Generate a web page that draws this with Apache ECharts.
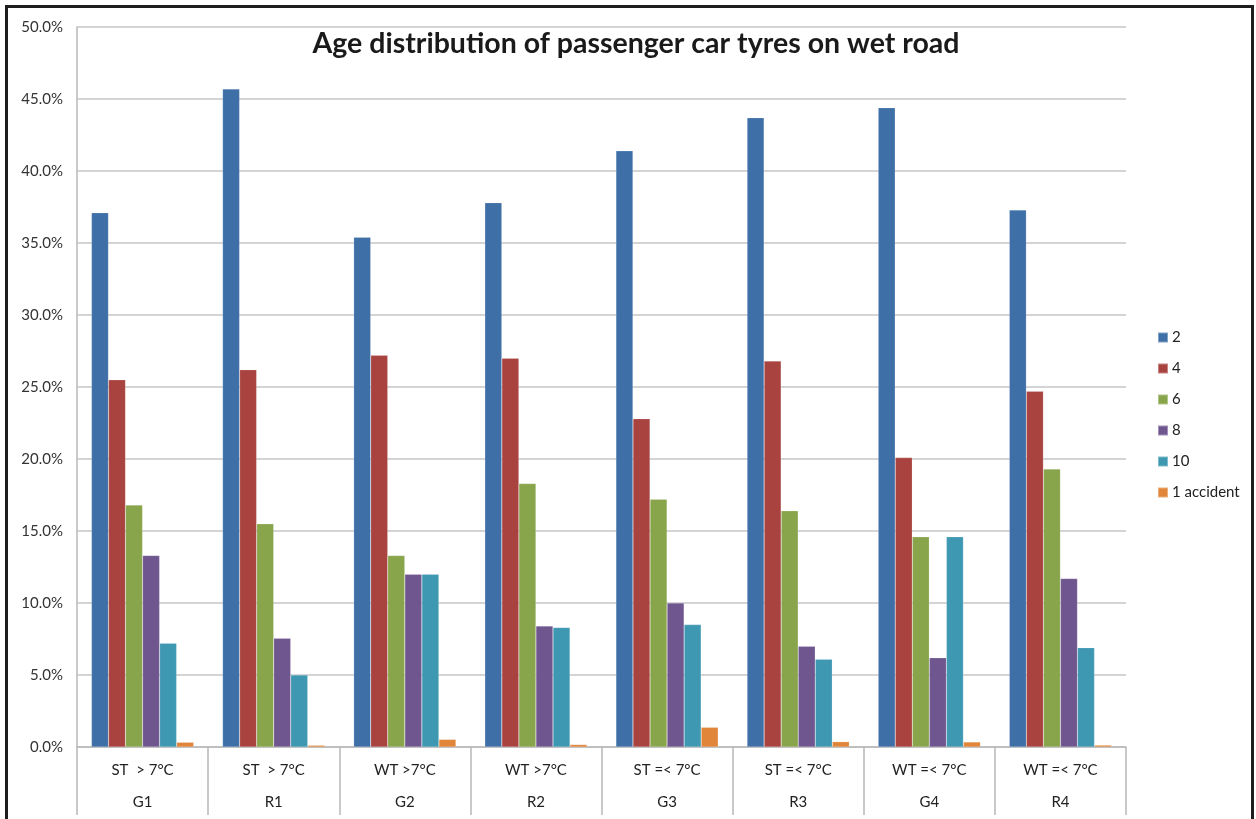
<!DOCTYPE html>
<html>
<head>
<meta charset="utf-8">
<script src="https://cdn.jsdelivr.net/npm/echarts@6/dist/echarts.min.js"></script>
<style>
  html, body { margin: 0; padding: 0; background: #fff; }
  #charts { width: 1256px; height: 819px; }
</style>
</head>
<body>
<div id="charts"></div>
<script>
// 类别（两行标签）
const conditions = ['ST  > 7°C', 'ST  > 7°C', 'WT >7°C', 'WT >7°C', 'ST =< 7°C', 'ST =< 7°C', 'WT =< 7°C', 'WT =< 7°C'];
const groups = ['G1', 'R1', 'G2', 'R2', 'G3', 'R3', 'G4', 'R4'];

// 各系列数值 (%)
const age2 = [37.1, 45.7, 35.4, 37.8, 41.4, 43.7, 44.4, 37.3];
const age4 = [25.5, 26.2, 27.2, 27.0, 22.8, 26.8, 20.1, 24.7];
const age6 = [16.8, 15.5, 13.3, 18.3, 17.2, 16.4, 14.6, 19.3];
const age8 = [13.3, 7.55, 12.0, 8.4, 10.0, 7.0, 6.2, 11.7];
const age10 = [7.2, 5.0, 12.0, 8.3, 8.5, 6.1, 14.6, 6.9];
const accident1 = [0.33, 0.12, 0.53, 0.17, 1.37, 0.37, 0.35, 0.13];

const seriesNames = ['2', '4', '6', '8', '10', '1 accident'];
const yTicks = [0, 5, 10, 15, 20, 25, 30, 35, 40, 45, 50];

const colors = ['#3e6fa7', '#a9433f', '#88a54c', '#6f568f', '#3e98b1', '#e0853a'];

let myChart = echarts.init(document.getElementById('charts'));

const seriesData = [age2, age4, age6, age8, age10, accident1];

let option = {
  color: colors,
  animation: false,
  title: {
    text: 'Age distribution of passenger car tyres on wet road',
    left: 631,
    top: 24,
    textAlign: 'center',
    textStyle: {
      fontFamily: 'Lato',
      fontWeight: 'bold',
      fontSize: 28.5,
      color: '#1a1a1a'
    }
  },
  legend: {
    orient: 'vertical',
    left: 1152,
    top: 325,
    itemWidth: 10,
    itemHeight: 10,
    itemGap: 16,
    icon: 'rect',
    textStyle: {
      fontFamily: 'Lato',
      fontSize: 15,
      color: '#222',
      padding: [0, 0, 0, -1]
    },
    data: seriesNames
  },
  grid: {
    left: 77,
    right: 130,
    top: 27,
    bottom: 72,
    containLabel: false
  },
  xAxis: {
    type: 'category',
    data: groups,
    axisLine: { lineStyle: { color: '#b8b8b8', width: 1.5 } },
    axisTick: {
      show: true,
      length: 68,
      lineStyle: { color: '#b8b8b8', width: 1.5 }
    },
    axisLabel: {
      interval: 0,
      margin: 7,
      formatter: function (value, idx) {
        return '{a|' + conditions[idx] + '}\n{b|' + value + '}';
      },
      rich: {
        a: { fontFamily: 'Lato', fontSize: 15, color: '#222', lineHeight: 32 },
        b: { fontFamily: 'Lato', fontSize: 15, color: '#222', lineHeight: 32 }
      }
    }
  },
  yAxis: {
    type: 'value',
    min: yTicks[0],
    max: yTicks[yTicks.length - 1],
    interval: 5,
    axisLine: { show: true, lineStyle: { color: '#b8b8b8', width: 1.5 } },
    axisTick: { show: false },
    splitLine: { lineStyle: { color: '#c6c6c6', width: 1.5 } },
    axisLabel: {
      margin: 14,
      fontFamily: 'Lato',
      fontSize: 15,
      color: '#333',
      formatter: function (v) { return v.toFixed(1) + '%'; }
    }
  },
  graphic: [
    {
      type: 'rect',
      shape: { x: 6.5, y: 6.5, width: 1246, height: 900 },
      style: { fill: 'none', stroke: '#1e1e1e', lineWidth: 3 },
      silent: true
    }
  ],
  series: seriesNames.map(function (name, i) {
    return {
      name: name,
      type: 'bar',
      barGap: '0%',
      barCategoryGap: '22%',
      itemStyle: { borderColor: 'rgba(255,255,255,0.35)', borderWidth: 0.5 },
      data: seriesData[i]
    };
  })
};

myChart.setOption(option);
</script>
</body>
</html>
